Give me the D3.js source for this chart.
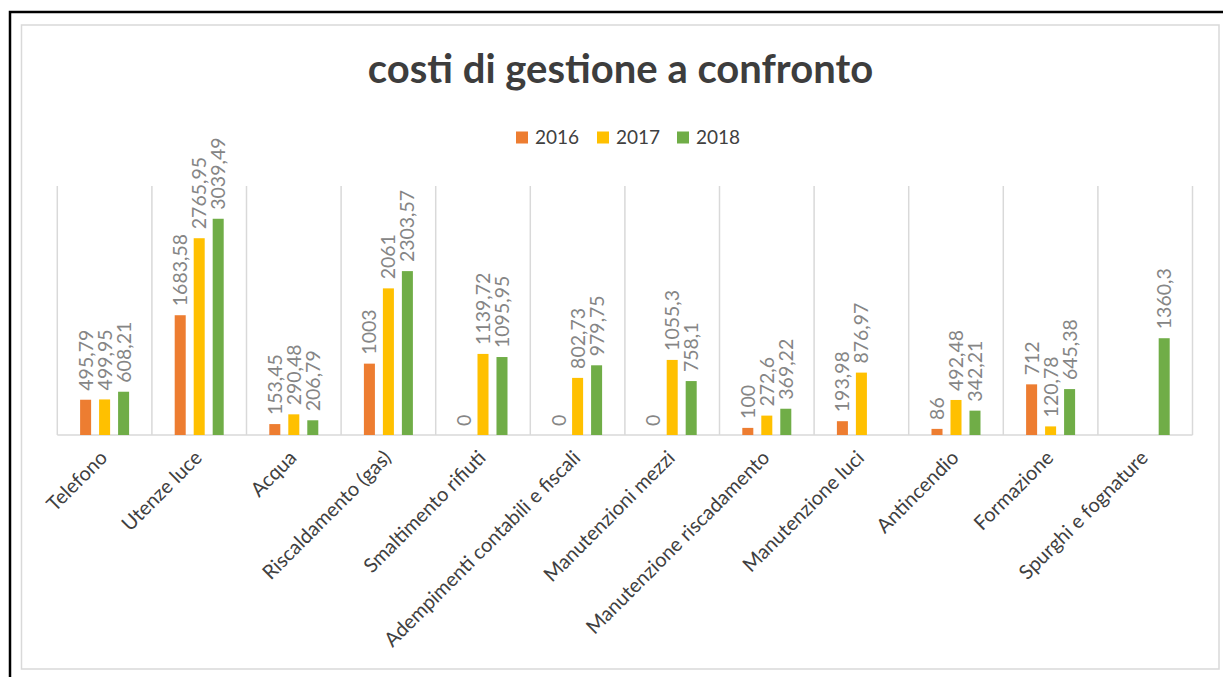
<!DOCTYPE html>
<html>
<head>
<meta charset="utf-8">
<script src="https://cdn.jsdelivr.net/npm/d3@7"></script>
<style>
  html, body { margin: 0; padding: 0; background: #fff; }
  svg { display: block; }
</style>
</head>
<body>
<svg id="chart" width="1223" height="677"></svg>
<script>
const categories = ["Telefono", "Utenze luce", "Acqua", "Riscaldamento (gas)", "Smaltimento rifiuti",
  "Adempimenti contabili e fiscali", "Manutenzioni mezzi", "Manutenzione riscadamento",
  "Manutenzione luci", "Antincendio", "Formazione", "Spurghi e fognature"];
const years = ["2016", "2017", "2018"];
const values2016 = [495.79, 1683.58, 153.45, 1003, 0, 0, 0, 100, 193.98, 86, 712, null];
const values2017 = [499.95, 2765.95, 290.48, 2061, 1139.72, 802.73, 1055.3, 272.6, 876.97, 492.48, 120.78, null];
const values2018 = [608.21, 3039.49, 206.79, 2303.57, 1095.95, 979.75, 758.1, 369.22, null, 342.21, 645.38, 1360.3];
const colors = ["#ED7D31", "#FFC000", "#70AD47"];
const title = "costi di gestione a confronto";

const seriesValues = [values2016, values2017, values2018];
const svg = d3.select("#chart");
const FONT = "Lato, 'Open Sans', sans-serif";

// borders
svg.append("rect").attr("x", 10).attr("y", 12).attr("width", 1240).attr("height", 700)
  .attr("fill", "none").attr("stroke", "#000").attr("stroke-width", 2.5);
svg.append("rect").attr("x", 21.5).attr("y", 25).attr("width", 1197.5).attr("height", 644)
  .attr("fill", "none").attr("stroke", "#d9d9d9").attr("stroke-width", 1.5);

const plotLeft = 57.3, plotRight = 1192.5, plotTop = 186, plotBottom = 435;
const x0 = d3.scaleBand().domain(categories).range([plotLeft, plotRight]).padding(0);
const bw = x0.bandwidth();
const x1 = d3.scaleBand().domain(years).range([22.8, bw - 22.8]).paddingInner(0.42).paddingOuter(0);
const y = d3.scaleLinear().domain([0, 3500]).range([plotBottom, plotTop]);

// vertical category gridlines
const gridX = categories.map(c => x0(c)).concat([plotRight]);
svg.append("g").selectAll("line").data(gridX).join("line")
  .attr("x1", d => d).attr("x2", d => d)
  .attr("y1", y(3500)).attr("y2", y(0))
  .attr("stroke", "#d9d9d9").attr("stroke-width", 1.5);

// baseline
svg.append("line").attr("x1", plotLeft).attr("x2", plotRight)
  .attr("y1", y(0)).attr("y2", y(0))
  .attr("stroke", "#d9d9d9").attr("stroke-width", 1.5);

// bars + labels
const flat = [];
categories.forEach((c, i) => {
  years.forEach((yr, j) => {
    const v = seriesValues[j][i];
    if (v !== null && v !== undefined) flat.push({ c, yr, j, v });
  });
});

svg.append("g").selectAll("rect").data(flat.filter(d => d.v > 0)).join("rect")
  .attr("x", d => x0(d.c) + x1(d.yr))
  .attr("y", d => y(d.v))
  .attr("width", x1.bandwidth())
  .attr("height", d => y(0) - y(d.v))
  .attr("fill", d => colors[d.j]);

const fmt = v => String(v).replace(".", ",");
svg.append("g").selectAll("text").data(flat).join("text")
  .attr("transform", d => {
    const cx = x0(d.c) + x1(d.yr) + x1.bandwidth() / 2 + 7;
    const cy = y(d.v) - 9;
    return `translate(${cx},${cy}) rotate(-90)`;
  })
  .attr("text-anchor", "start")
  .attr("font-family", FONT).attr("font-size", 19.5)
  .attr("fill", "#858585")
  .text(d => fmt(d.v));

// x axis labels
svg.append("g").selectAll("text").data(categories).join("text")
  .attr("transform", c => `translate(${x0(c) + bw / 2 + 4},${459}) rotate(-45)`)
  .attr("text-anchor", "end")
  .attr("font-family", FONT).attr("font-size", 20)
  .attr("fill", "#404040")
  .text(c => c);

// title
svg.append("text").attr("x", 620.5).attr("y", 83)
  .attr("text-anchor", "middle")
  .attr("font-family", FONT).attr("font-weight", 700).attr("font-size", 40)
  .attr("fill", "#3d3d3d")
  .text(title);

// legend
const legendX = [516, 597, 677];
const lg = svg.append("g").selectAll("g").data(years).join("g")
  .attr("transform", (d, i) => `translate(${legendX[i]},131.5)`);
lg.append("rect").attr("width", 12).attr("height", 12).attr("fill", (d, i) => colors[i]);
lg.append("text").attr("x", 19).attr("y", 12)
  .attr("font-family", FONT).attr("font-size", 19).attr("fill", "#404040")
  .text(d => d);
</script>
</body>
</html>
